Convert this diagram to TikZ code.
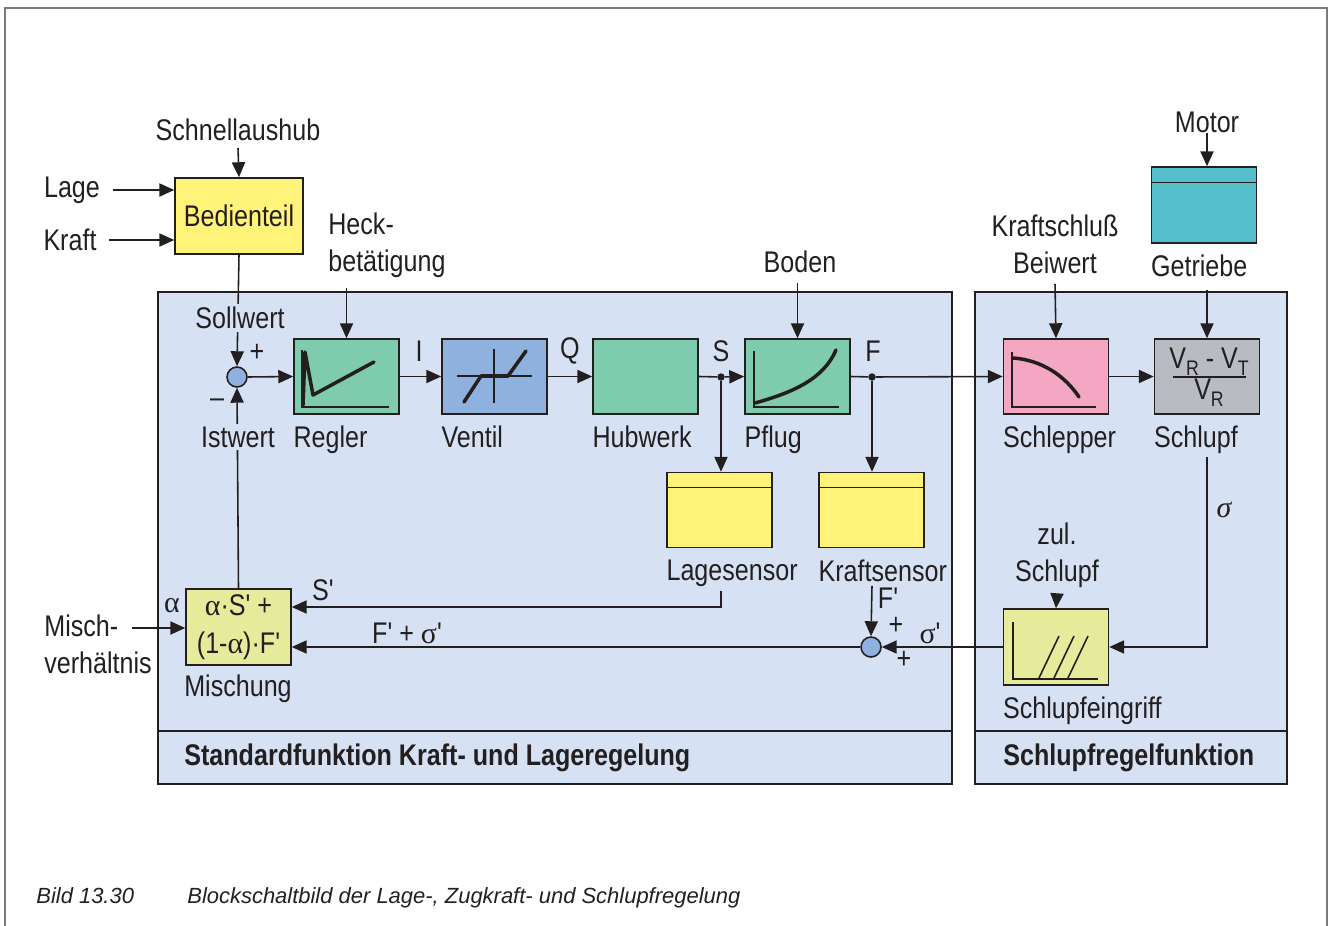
\documentclass[tikz,border=0pt]{standalone}
\usepackage{fontspec}
\setmainfont{Liberation Sans}[FakeStretch=0.84]
\newfontfamily\plainfont{Liberation Sans}[FakeStretch=0.84]
\newfontfamily\greekfont{Liberation Serif}
\newfontfamily\capfont{Liberation Sans}
\usetikzlibrary{arrows.meta, positioning, calc}
\definecolor{Ink}{HTML}{231F20}
\definecolor{FrameGray}{HTML}{7A7A7A}
\definecolor{PanelBlue}{HTML}{D6E2F3}
\definecolor{BlockGreen}{HTML}{7ECBAE}
\definecolor{ValveBlue}{HTML}{8FB1DE}
\definecolor{SensorYellow}{HTML}{FFF37A}
\definecolor{MixYellow}{HTML}{E5EB9A}
\definecolor{TractorPink}{HTML}{F3A7C3}
\definecolor{SlipGray}{HTML}{B8BCC2}
\definecolor{GearTeal}{HTML}{54BECB}
\newcommand{\blkfont}{\fontsize{17}{17}\selectfont}
\newcommand{\idx}[1]{\raisebox{-0.45ex}{\fontsize{12}{12}\selectfont #1}}
\newcommand{\gr}[1]{{\greekfont #1}}
\newcommand{\pr}{{\plainfont'}}

\tikzset{
  sig/.style={-{Triangle[length=8.5pt,width=7.5pt]}, line width=0.9pt, draw=Ink},
  wire/.style={line width=0.9pt, draw=Ink},
  curve/.style={line width=2pt, draw=Ink, line cap=round, line join=round},
  blk/.style={draw=Ink, line width=0.9pt, minimum width=2.1cm, minimum height=1.5cm, inner sep=0pt, text=Ink, font=\blkfont},
  sensor/.style={blk, fill=SensorYellow,
    path picture={\draw[line width=1.1pt, Ink] ([yshift=-0.3cm]path picture bounding box.north west) -- ([yshift=-0.3cm]path picture bounding box.north east);}},
  panel/.style={draw=Ink, line width=0.9pt, fill=PanelBlue},
  lbl/.style={inner sep=0pt, text=Ink, font=\blkfont},
  mask/.style={lbl, fill=PanelBlue, inner sep=1.5pt},
  junction/.style={circle, draw=Ink, line width=0.9pt, fill=ValveBlue, minimum size=0.4cm, inner sep=0pt},
  tap/.style={circle, fill=Ink, minimum size=0.15cm, inner sep=0pt},
}

\begin{document}
\begin{tikzpicture}[x=0.02cm, y=-0.02cm]
\useasboundingbox (0,0) rectangle (1329,926);

% frame
\draw[FrameGray, line width=1.2pt] (5,926) -- (5,8) -- (1327,8) -- (1327,926);

% panels
\node[panel, minimum width=15.88cm, minimum height=9.84cm, inner sep=0pt] (stdpanel) at (555,538) {};
\node[panel, minimum width=6.24cm, minimum height=9.84cm, inner sep=0pt] (slippanel) at (1131,538) {};
\draw[wire] (stdpanel.west |- 0,731) -- (stdpanel.east |- 0,731);
\draw[wire] (slippanel.west |- 0,731) -- (slippanel.east |- 0,731);
\node[lbl, anchor=west, font=\blkfont\bfseries] (stdtitle) at (184,758) {Standardfunktion Kraft- und Lageregelung};
\node[lbl, anchor=west, font=\blkfont\bfseries] (sliptitle) at (1003,758) {Schlupfregelfunktion};

% operator inputs
\node[blk, fill=SensorYellow, minimum width=2.56cm, minimum height=1.52cm] (bedien) at (239,216) {Bedienteil};
\node[lbl] (schnell) at (238,130) {Schnellaushub};
\node[lbl] (lage) at (72,190) {Lage};
\node[lbl] (kraft) at (70,240) {Kraft};
\draw[sig] (schnell.south |- 0,148) -- (bedien.north);
\draw[sig] ([xshift=0.25cm]lage.east) -- (lage -| bedien.west);
\draw[sig] ([xshift=0.25cm]kraft.east) -- (kraft -| bedien.west);

% forward path
\node[junction] (sum1) at (237,377) {};
\node[blk, fill=BlockGreen] (regler) at (346.5,376.5) {};
\node[blk, fill=ValveBlue] (ventil) at (494.5,376.5) {};
\node[blk, fill=BlockGreen] (hubwerk) at (645.5,376.5) {};
\node[blk, fill=BlockGreen] (pflug) at (797.5,376.5) {};
\node[tap] (stap) at (721,377) {};
\node[tap] (ftap) at (872,377) {};

\draw[sig] (bedien.south) -- (sum1.north);
\node[mask] (sollwert) at (240,318) {Sollwert};
\draw[sig] (sum1.east) -- (regler.west);
\draw[sig] (regler.east) -- (ventil.west);
\draw[sig] (ventil.east) -- (hubwerk.west);
\draw[wire] (hubwerk.east) -- (stap);
\draw[sig] (stap) -- (pflug.west);
\draw[wire] (pflug.east) -- (ftap);

\node[lbl] at (257,353) {+};
\node[lbl] at (217,403) {\textendash};
\node[lbl] at (419,351) {I};
\node[lbl] at (570,351) {Q};
\node[lbl] at (721,351) {S};
\node[lbl] at (873,351) {F};

\node[lbl, anchor=north west] (reglerlbl) at ([yshift=-0.22cm]regler.south west) {Regler};
\node[lbl, anchor=north west] (ventillbl) at ([yshift=-0.22cm]ventil.south west) {Ventil};
\node[lbl, anchor=north west] (hubwerklbl) at ([yshift=-0.22cm]hubwerk.south west) {Hubwerk};
\node[lbl, anchor=north west] (pfluglbl) at ([yshift=-0.22cm]pflug.south west) {Pflug};

\node[lbl, align=left, anchor=west] (heck) at (328,245) {Heck-\\[4pt]betätigung};
\draw[sig] ([yshift=-0.2cm]heck.south -| regler) -- (regler.north);
\node[lbl] (boden) at (800,262) {Boden};
\draw[sig] ([yshift=-0.2cm]boden.south -| pflug) -- (pflug.north);

% characteristic curves
\draw[wire] (302,350) -- (302,407) -- (389,407);
\draw[curve] (303,405) -- (305,352) -- (313,395) -- (374,362);
\draw[wire] (457,376) -- (532,376) (494,349) -- (494,403);
\draw[curve] (464,402) -- (481,376) -- (508,376) -- (526,351);
\draw[wire] (754,351) -- (754,407) -- (839,407);
\draw[curve] (755,403) .. controls (795,392) and (824,378) .. (836,350);

% sensors and mixing
\node[sensor] (lagesensor) at (719.5,510) {};
\node[sensor] (kraftsensor) at (871.5,510) {};
\draw[sig] (stap) -- (stap |- lagesensor.north);
\draw[sig] (ftap) -- (ftap |- kraftsensor.north);
\node[lbl, anchor=north west] (lagelbl) at ([yshift=-0.22cm]lagesensor.south west) {Lagesensor};
\node[lbl, anchor=north west] (kraftlbl) at ([yshift=-0.22cm]kraftsensor.south west) {Kraftsensor};

\node[blk, fill=MixYellow, minimum height=1.52cm, align=center] (mischung) at (238.5,627)
  {\gr{α}·S\pr\ +\\[5pt](1-\gr{α})·F\pr};
\node[lbl] (mischlbl) at (238,689) {Mischung};
\node[junction] (sum2) at (871,647) {};

\draw[sig] ([yshift=-0.08cm]lagelbl.south -| stap) |- ([yshift=0.4cm]mischung.east);
\draw[sig] ([yshift=-0.08cm]kraftlbl.south -| ftap) -- (sum2.north);
\draw[sig] (sum2.west) -- ([yshift=-0.4cm]mischung.east);
\draw[sig] (mischung.north) -- (sum1.south);
\node[mask] (istwert) at (238,437) {Istwert};

\node[lbl] at (323,590) {S\pr};
\node[lbl] at (407,633) {F\pr\ + \gr{σ}\pr};
\node[lbl] at (888,598) {F\pr};
\node[lbl] at (896,626) {+};
\node[lbl] at (930,633) {\gr{σ}\pr};
\node[lbl] at (904,660) {+};
\node[lbl] at (172,606) {\gr{α}};

\node[lbl, align=left, anchor=west] (misch) at (44,644) {Misch-\\[4pt]verhältnis};
\coordinate (mischin) at (132,628);
\draw[sig] (mischin) -- (mischin -| mischung.west);

% slip control
\node[blk, fill=TractorPink] (schlepper) at (1056,376.5) {};
\node[blk, fill=SlipGray] (schlupf) at (1207,376.5) {};
\draw[sig] (ftap) -- (schlepper.west);
\draw[sig] (schlepper.east) -- (schlupf.west);
\node[lbl, anchor=north west] (schlepperlbl) at ([yshift=-0.22cm]schlepper.south west) {Schlepper};
\node[lbl, anchor=north west] (schlupflbl) at ([yshift=-0.22cm]schlupf.south west) {Schlupf};

\draw[wire] (1012,352) -- (1012,407) -- (1096,407);
\draw[curve] (1013,358) .. controls (1042,360) and (1065,376) .. (1079,397);
\node[lbl] (slipnum) at (1209,362) {V\idx{R} - V\idx{T}};
\node[lbl] (slipden) at (1209,393) {V\idx{R}};
\draw[line width=1pt, Ink] (1173,377) -- (1246,377);

\node[lbl, align=center] (beiwert) at (1055,244) {Kraftschluß\\[4pt]Beiwert};
\draw[sig] ([yshift=-0.2cm]beiwert.south) -- (schlepper.north);

\node[blk, fill=GearTeal, minimum height=1.52cm,
  path picture={\draw[line width=1.1pt, Ink] ([yshift=-0.31cm]path picture bounding box.north west) -- ([yshift=-0.31cm]path picture bounding box.north east);}]
  (getriebe) at (1204,205) {};
\node[lbl] (motor) at (1207,122) {Motor};
\node[lbl, anchor=north west] (getriebelbl) at ([yshift=-0.22cm]getriebe.south west) {Getriebe};
\draw[sig] (motor.south) -- (motor |- getriebe.north);
\draw[sig] ([yshift=-0.25cm]getriebelbl.south -| schlupf) -- (schlupf.north);

\node[blk, fill=MixYellow, minimum height=1.52cm] (eingriff) at (1056,647) {};
\draw[wire] (1013,622) -- (1013,679) -- (1098,679);
\foreach \dx in {0,15,29} {
  \draw[wire] (1039+\dx,678) -- (1059+\dx,636);
}
\node[lbl, anchor=north west] (eingrifflbl) at ([yshift=-0.22cm]eingriff.south west) {Schlupfeingriff};
\node[lbl, align=center] (zul) at (1057,555) {zul.\\[4pt]Schlupf};
\draw[sig] ([yshift=-0.12cm]zul.south) -- (eingriff.north);

\draw[sig] ([yshift=-0.06cm]schlupflbl.south -| schlupf) |- (eingriff.east);
\draw[sig] (eingriff.west) -- (sum2.east);
\node[lbl] at (1224,510) {\gr{\itshape σ}};

% caption
\node[lbl, anchor=base west, font=\capfont\fontsize{12.5}{12.5}\selectfont\itshape] (bildnr) at (36,903) {Bild 13.30};
\node[lbl, anchor=base west, font=\capfont\fontsize{12.5}{12.5}\selectfont\itshape] (bildtxt) at (187,903) {Blockschaltbild der Lage-, Zugkraft- und Schlupfregelung};
\end{tikzpicture}
\end{document}
